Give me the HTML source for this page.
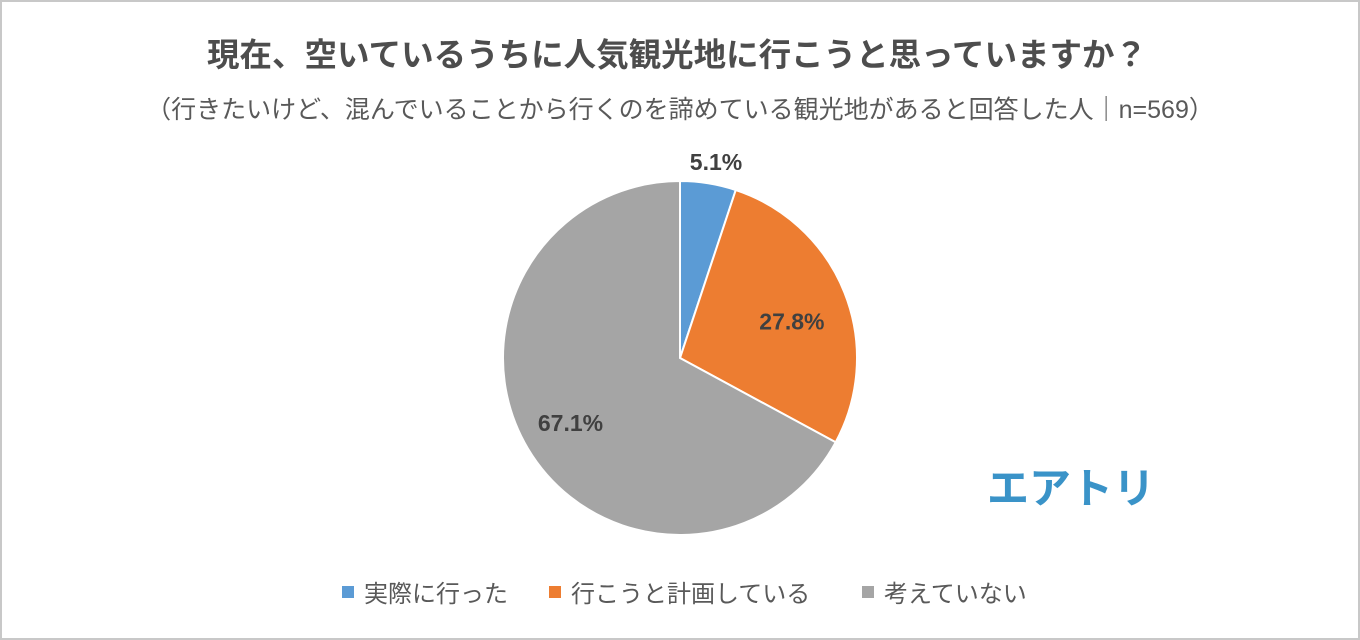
<!DOCTYPE html>
<html><head><meta charset="utf-8"><style>
html,body{margin:0;padding:0;background:#fff;}
#wrap{position:relative;width:1356px;height:636px;border:2px solid #c8c8c8;overflow:hidden;font-family:"Liberation Sans","Noto Sans CJK JP",sans-serif;}
</style></head><body>
<div id="wrap">
<svg id="chart" width="1356" height="636">
<text x="675" y="64" text-anchor="middle" font-size="32.5" font-weight="bold" fill="#4d4d4d">現在、空いているうちに人気観光地に行こうと思っていますか？</text>
<text x="678" y="116" text-anchor="middle" font-size="25" fill="#595959">（行きたいけど、混んでいることから行くのを諦めている観光地があると回答した人｜n=569）</text>
<text x="1069" y="501" text-anchor="middle" font-size="42" font-weight="bold" fill="#3a93c8">エアトリ</text>
<g id="slices"></g>
<g id="labels"></g>
<g id="legend"></g>
</svg>
</div>
<script>
const categories=["実際に行った","行こうと計画している","考えていない"];
const values=[5.1,27.8,67.1];
const colors=["#5b9bd5","#ed7d31","#a5a5a5"];
const cx=678,cy=356,r=177;
const ns="http://www.w3.org/2000/svg";
const total=values.reduce((a,b)=>a+b,0);
const gS=document.getElementById('slices'),gL=document.getElementById('labels'),gG=document.getElementById('legend');
function pt(a,rr){return [cx+rr*Math.sin(a),cy-rr*Math.cos(a)];}
let start=0;
const labelR=[r+18,r*0.68,r*0.72];
values.forEach((v,i)=>{
  const ang=v/total*2*Math.PI,end=start+ang;
  const [x1,y1]=pt(start,r),[x2,y2]=pt(end,r);
  const p=document.createElementNS(ns,'path');
  p.setAttribute('d',`M${cx},${cy} L${x1},${y1} A${r},${r} 0 ${ang>Math.PI?1:0} 1 ${x2},${y2} Z`);
  p.setAttribute('fill',colors[i]);p.setAttribute('stroke','#fff');p.setAttribute('stroke-width','2');
  
  
  gS.appendChild(p);
  const mid=(start+end)/2;
  let [lx,ly]=pt(mid,labelR[i]);
  if(i===0){lx=714;ly=160;}
  if(i===1){ly+=8;}
  const t=document.createElementNS(ns,'text');
  t.setAttribute('x',lx);t.setAttribute('y',ly+8);t.setAttribute('text-anchor','middle');
  t.setAttribute('font-size','23');t.setAttribute('font-weight','bold');t.setAttribute('fill','#404040');
  t.textContent=v.toFixed(1)+'%';
  
  
  gL.appendChild(t);
  start=end;
});
const legX=[340,547,860];
categories.forEach((c,i)=>{
  const rc=document.createElementNS(ns,'rect');
  rc.setAttribute('x',legX[i]);rc.setAttribute('y',584);rc.setAttribute('width',12);rc.setAttribute('height',12);rc.setAttribute('fill',colors[i]);
  
  
  gG.appendChild(rc);
  const t=document.createElementNS(ns,'text');
  t.setAttribute('x',legX[i]+22);t.setAttribute('y',600);t.setAttribute('font-size','24');t.setAttribute('fill','#595959');
  t.textContent=c;
  
  
  gG.appendChild(t);
});
</script>
</body></html>
